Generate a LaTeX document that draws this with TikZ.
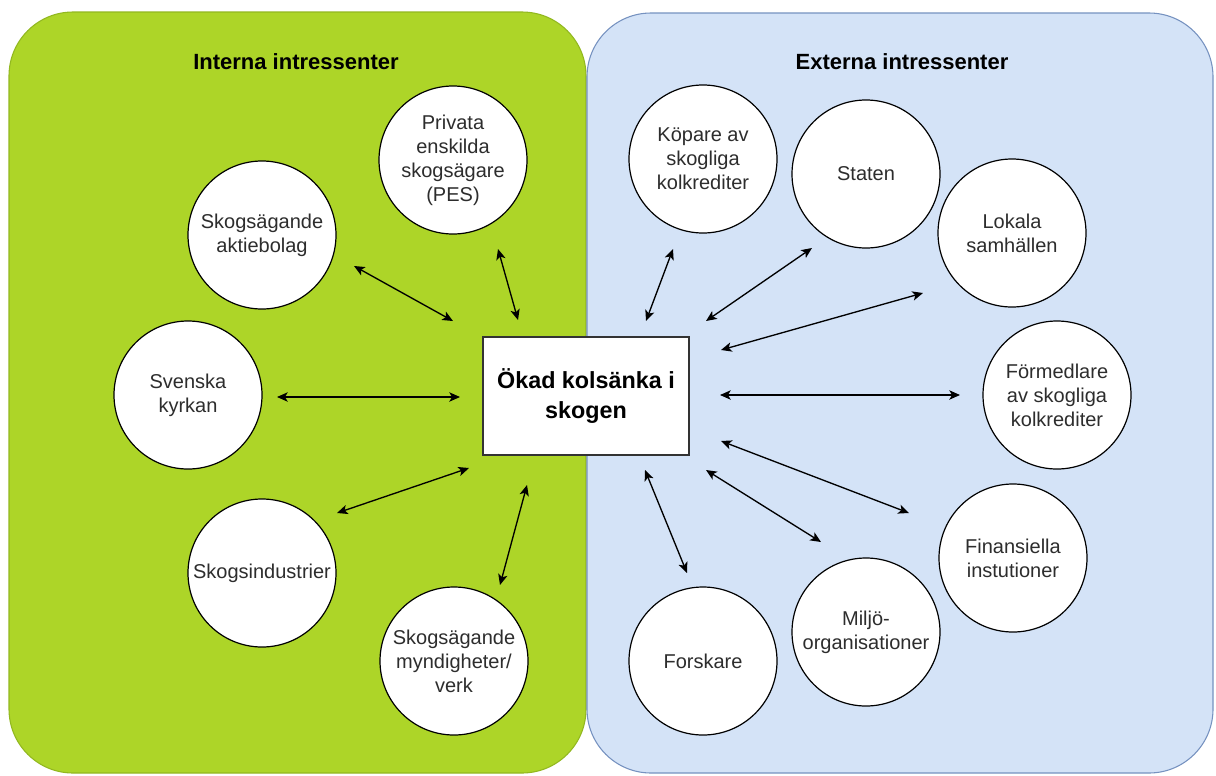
\documentclass[tikz,border=0pt]{standalone}
\usepackage{fontspec}
\setmainfont{Liberation Sans}
\usetikzlibrary{arrows.meta}
\definecolor{greenpanel}{RGB}{173,213,40}
\definecolor{greenedge}{RGB}{146,184,32}
\definecolor{bluepanel}{RGB}{212,227,247}
\definecolor{blueedge}{RGB}{118,146,192}
\definecolor{labelgray}{RGB}{45,45,45}

\begin{document}
\begin{tikzpicture}[x=0.75pt,y=-0.75pt,
  panel/.style={rounded corners=48pt, line width=0.8pt},
  actor/.style={circle, draw=black, line width=0.9pt, fill=white,
    minimum size=111pt, inner sep=0pt, align=center, text=labelgray,
    font=\fontsize{15}{18}\selectfont},
  hub/.style={draw=black!80, line width=1.1pt, fill=white,
    minimum width=154.5pt, minimum height=88.5pt, align=center,
    font=\bfseries\fontsize{17.5}{22.5}\selectfont},
  heading/.style={font=\bfseries\fontsize{16.5}{20}\selectfont},
  tip/.style={Stealth[length=8pt,width=7pt,inset=2pt]},
  link/.style={line width=1pt, {Stealth[length=8pt,width=7pt,inset=2pt]}-{Stealth[length=8pt,width=7pt,inset=2pt]}}
]
\useasboundingbox (0,0) rectangle (1216,775);
\fill[white] (0,0) rectangle (1216,775);

% two stakeholder panels
\path[panel, fill=greenpanel, draw=greenedge] (9,12) rectangle (586,773);
\path[panel, fill=bluepanel, draw=blueedge] (587,13) rectangle (1213,773);

\node[heading] (tint) at (296,62) {Interna intressenter};
\node[heading] (text) at (902,62) {Externa intressenter};

% central goal
\node[hub] (hub) at (586,396) {Ökad kolsänka i\\skogen};

% internal stakeholders
\node[actor] (aktie) at (262,235) {Skogsägande\\aktiebolag};
\node[actor] (pes) at (453,160) {Privata\\enskilda\\skogsägare\\(PES)};
\node[actor] (kyrkan) at (188,395) {Svenska\\kyrkan};
\node[actor] (industri) at (262,573) {Skogsindustrier};
\node[actor] (myndig) at (454,661) {Skogsägande\\myndigheter/\\verk};

% external stakeholders
\node[actor] (kopare) at (703,159) {Köpare av\\skogliga\\kolkrediter};
\node[actor] (staten) at (866,174) {Staten};
\node[actor] (lokala) at (1012,233) {Lokala\\samhällen};
\node[actor] (formedl) at (1057,395) {Förmedlare\\av skogliga\\kolkrediter};
\node[actor] (finans) at (1013,558) {Finansiella\\instutioner};
\node[actor] (miljo) at (866,632) {Miljö-\\organisationer};
\node[actor] (forskare) at (703,661) {Forskare};

% arrow ends near each stakeholder and near the goal
\coordinate (aktie-e) at (354,266);  \coordinate (aktie-h) at (453,321);
\coordinate (pes-e) at (498,249);    \coordinate (pes-h) at (518,320);
\coordinate (kyrkan-e) at (277,397); \coordinate (kyrkan-h) at (460,397);
\coordinate (industri-e) at (337,513); \coordinate (industri-h) at (469,468);
\coordinate (myndig-e) at (500,585); \coordinate (myndig-h) at (527,485);
\coordinate (kopare-e) at (673,249); \coordinate (kopare-h) at (646,321);
\coordinate (staten-e) at (812,248); \coordinate (staten-h) at (706,321);
\coordinate (lokala-e) at (923,293); \coordinate (lokala-h) at (721,350);
\coordinate (formedl-e) at (960,395); \coordinate (formedl-h) at (720,395);
\coordinate (finans-e) at (909,513); \coordinate (finans-h) at (721,441);
\coordinate (miljo-e) at (821,542);  \coordinate (miljo-h) at (706,470);
\coordinate (forskare-e) at (687,573); \coordinate (forskare-h) at (645,470);

\foreach \n in {aktie,pes,kyrkan,industri,myndig,kopare,staten,lokala,formedl,finans,miljo,forskare}
  \draw[link] (\n-e) -- (\n-h);
\end{tikzpicture}
\end{document}
